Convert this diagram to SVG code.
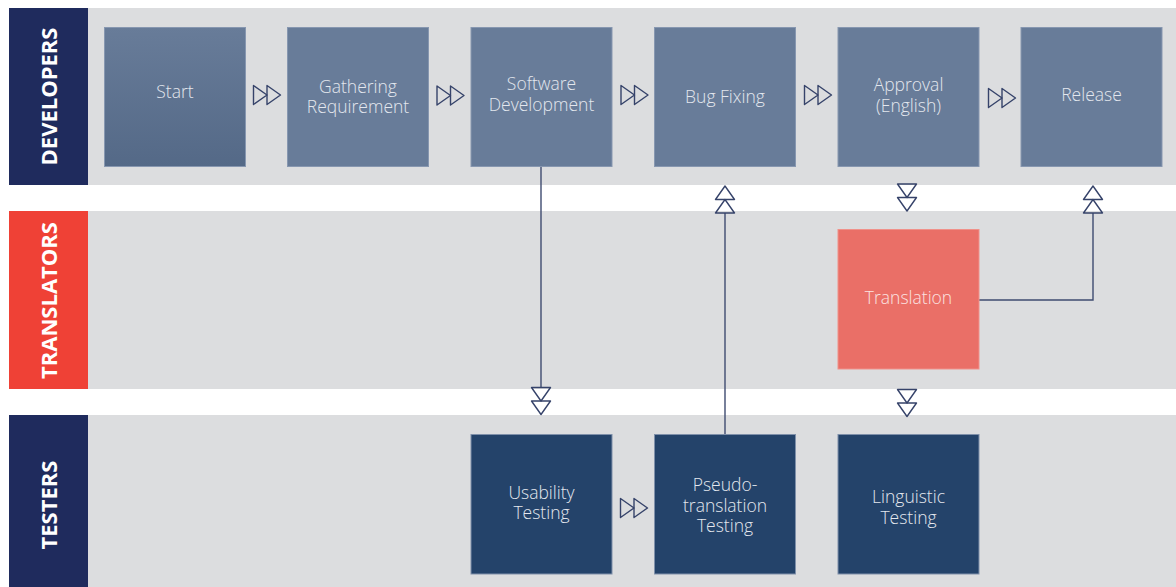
<svg xmlns="http://www.w3.org/2000/svg" xmlns:xlink="http://www.w3.org/1999/xlink" width="1176" height="587" viewBox="0 0 1176 587">
  <style>
    .lane { fill: #dcdddf; }
    .lane-label { font-family: "Open Sans", "Liberation Sans", sans-serif; font-weight: 700; font-size: 22px; fill: #ffffff; text-anchor: middle; }
    .box-dev { fill: #687c99; stroke: #8797b0; stroke-width: 1; }
    .box-tr { fill: #ea6f67; stroke: #f0918a; stroke-width: 1; }
    .box-test { fill: #24436a; stroke: #7f90aa; stroke-width: 1; }
    .label { font-family: "Open Sans", "Liberation Sans", sans-serif; font-weight: 300; font-size: 17.5px; fill: #e3e7ee; text-anchor: middle; }
    .label-tr { fill: #fbe3e1; }
    .wire { fill: none; stroke: #3e4b70; stroke-width: 1.4; }
    .tri { fill: none; stroke: #36436a; stroke-width: 1.4; stroke-linejoin: round; }
  </style>
  <defs>
    <linearGradient id="startFill" x1="0" y1="0" x2="0" y2="1">
      <stop offset="0" stop-color="#687c99"/>
      <stop offset="1" stop-color="#546987"/>
    </linearGradient>
    <!-- double open triangle pointing right; rotated for other directions -->
    <g id="dbl">
      <polygon class="tri" points="0,-9.5 13.5,0 0,9.5"/>
      <polygon class="tri" points="13.5,-9.5 27,0 13.5,9.5"/>
    </g>
  </defs>

  <rect width="1176" height="587" fill="#ffffff"/>

  <!-- swimlanes -->
  <g id="lane-developers">
    <rect class="lane" x="9" y="8" width="1167" height="177"/>
    <rect x="9" y="8" width="79" height="177" fill="#1f2b5d"/>
    <text class="lane-label" transform="translate(56.5,96.5) rotate(-90)">DEVELOPERS</text>
  </g>
  <g id="lane-translators">
    <rect class="lane" x="9" y="211" width="1167" height="178"/>
    <rect x="9" y="211" width="79" height="178" fill="#ef4136"/>
    <text class="lane-label" transform="translate(56.5,300.5) rotate(-90)">TRANSLATORS</text>
  </g>
  <g id="lane-testers">
    <rect class="lane" x="9" y="415" width="1167" height="180"/>
    <rect x="9" y="415" width="79" height="180" fill="#1f2b5d"/>
    <text class="lane-label" transform="translate(56.5,505) rotate(-90)">TESTERS</text>
  </g>

  <!-- connectors -->
  <g id="connectors">
    <path class="wire" d="M541,166 V387"/>
    <path class="wire" d="M725,434 V213"/>
    <path class="wire" d="M979,300 H1093 V213"/>

    <use xlink:href="#dbl" transform="translate(253.5,95)"/>
    <use xlink:href="#dbl" transform="translate(437,95.5)"/>
    <use xlink:href="#dbl" transform="translate(621,95)"/>
    <use xlink:href="#dbl" transform="translate(804.5,95)"/>
    <use xlink:href="#dbl" transform="translate(988.5,98)"/>
    <use xlink:href="#dbl" transform="translate(620.5,508)"/>

    <use xlink:href="#dbl" transform="translate(541,387.5) rotate(90)"/>
    <use xlink:href="#dbl" transform="translate(907,184) rotate(90)"/>
    <use xlink:href="#dbl" transform="translate(907,389.5) rotate(90)"/>
    <use xlink:href="#dbl" transform="translate(725,213) rotate(-90)"/>
    <use xlink:href="#dbl" transform="translate(1093,213) rotate(-90)"/>
  </g>

  <!-- developer steps -->
  <g id="start">
    <rect x="104.5" y="27.5" width="141" height="139" fill="url(#startFill)" stroke="#8797b0" stroke-width="1"/>
    <text class="label" x="175" y="98">Start</text>
  </g>
  <g id="gathering-requirement">
    <rect class="box-dev" x="287.5" y="27.5" width="141" height="139"/>
    <text class="label" x="358" y="92.5">Gathering</text>
    <text class="label" x="358" y="113">Requirement</text>
  </g>
  <g id="software-development">
    <rect class="box-dev" x="471" y="27.5" width="141" height="139"/>
    <text class="label" x="541.5" y="90">Software</text>
    <text class="label" x="541.5" y="110.5">Development</text>
  </g>
  <g id="bug-fixing">
    <rect class="box-dev" x="654.5" y="27.5" width="141" height="139"/>
    <text class="label" x="725" y="103">Bug Fixing</text>
  </g>
  <g id="approval-english">
    <rect class="box-dev" x="838" y="27.5" width="141" height="139"/>
    <text class="label" x="908.5" y="91">Approval</text>
    <text class="label" x="908.5" y="111.5">(English)</text>
  </g>
  <g id="release">
    <rect class="box-dev" x="1021" y="27.5" width="141" height="139"/>
    <text class="label" x="1091.5" y="101">Release</text>
  </g>

  <!-- translator step -->
  <g id="translation">
    <rect class="box-tr" x="838" y="229.5" width="141" height="139.5"/>
    <text class="label label-tr" x="908.5" y="304">Translation</text>
  </g>

  <!-- tester steps -->
  <g id="usability-testing">
    <rect class="box-test" x="471" y="434.5" width="141" height="139.5"/>
    <text class="label" x="541.5" y="498.5">Usability</text>
    <text class="label" x="541.5" y="519">Testing</text>
  </g>
  <g id="pseudo-translation-testing">
    <rect class="box-test" x="654.5" y="434.5" width="141" height="139.5"/>
    <text class="label" x="725" y="491">Pseudo-</text>
    <text class="label" x="725" y="511.5">translation</text>
    <text class="label" x="725" y="532">Testing</text>
  </g>
  <g id="linguistic-testing">
    <rect class="box-test" x="838" y="434.5" width="141" height="139.5"/>
    <text class="label" x="908.5" y="503">Linguistic</text>
    <text class="label" x="908.5" y="523.5">Testing</text>
  </g>
</svg>
